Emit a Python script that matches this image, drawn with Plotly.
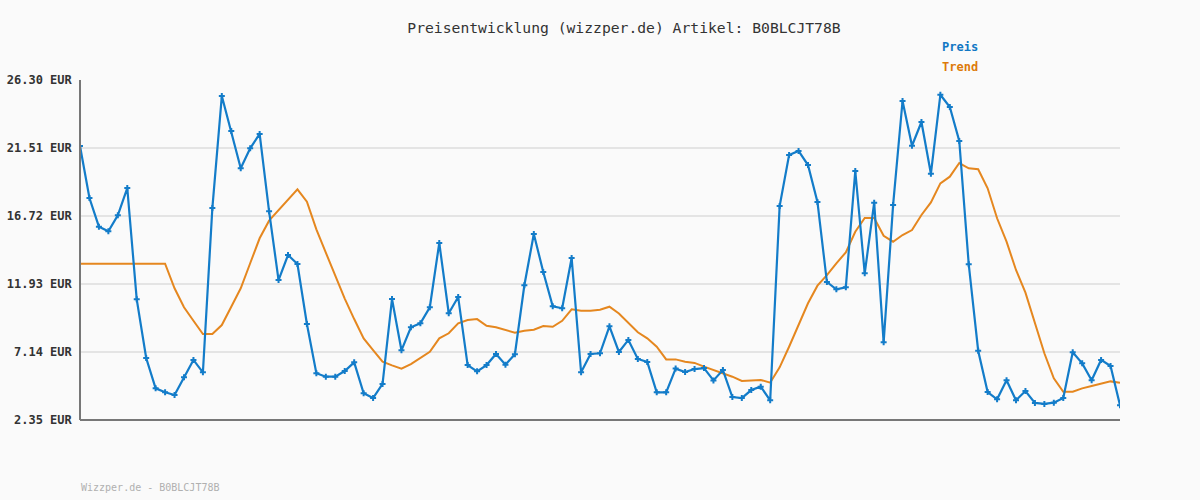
import plotly.graph_objects as go

preis = [21.65, 17.99, 15.97, 15.64, 16.77, 18.69, 10.85, 6.72, 4.58, 4.30,
         4.11, 5.36, 6.58, 5.71, 17.28, 25.17, 22.71, 20.08, 21.49, 22.50,
         17.05, 12.21, 13.97, 13.34, 9.11, 5.64, 5.40, 5.40, 5.80, 6.41,
         4.23, 3.90, 4.89, 10.87, 7.26, 8.88, 9.16, 10.29, 14.82, 9.87,
         11.01, 6.22, 5.78, 6.22, 7.00, 6.25, 6.98, 11.84, 15.45, 12.78,
         10.36, 10.22, 13.76, 5.71, 7.00, 7.05, 8.95, 7.14, 7.99, 6.65,
         6.44, 4.30, 4.30, 5.97, 5.73, 5.94, 6.01, 5.14, 5.87, 3.97,
         3.90, 4.46, 4.70, 3.74, 17.42, 21.02, 21.30, 20.31, 17.71, 12.07,
         11.56, 11.70, 19.89, 12.68, 17.66, 7.82, 17.49, 24.82, 21.67, 23.34,
         19.70, 25.26, 24.40, 22.00, 13.32, 7.23, 4.32, 3.81, 5.15, 3.74,
         4.39, 3.55, 3.48, 3.57, 3.90, 7.12, 6.34, 5.15, 6.58, 6.15, 3.39]

trend = [13.36, 13.36, 13.36, 13.36, 13.36, 13.36, 13.36, 13.36, 13.36, 13.36,
         11.63, 10.29, 9.34, 8.41, 8.41, 9.04, 10.33, 11.63, 13.39, 15.15,
         16.39, 17.14, 17.90, 18.60, 17.73, 15.78, 14.14, 12.56, 10.90, 9.46,
         8.10, 7.28, 6.46, 6.20, 5.97, 6.29, 6.70, 7.16, 8.10, 8.46,
         9.16, 9.39, 9.46, 8.99, 8.88, 8.69, 8.50, 8.64, 8.71, 8.97,
         8.92, 9.34, 10.15, 10.05, 10.05, 10.12, 10.33, 9.85, 9.16, 8.53,
         8.10, 7.51, 6.62, 6.62, 6.46, 6.37, 6.11, 5.87, 5.68, 5.40,
         5.10, 5.12, 5.17, 4.98, 6.06, 7.51, 8.99, 10.57, 11.81, 12.56,
         13.39, 14.16, 15.61, 16.58, 16.58, 15.33, 14.91, 15.38, 15.73, 16.79,
         17.68, 19.02, 19.49, 20.45, 20.08, 20.01, 18.67, 16.56, 14.91, 12.92,
         11.32, 9.16, 7.05, 5.29, 4.34, 4.34, 4.58, 4.75, 4.89, 5.07, 4.98]

y_ticks = [2.35, 7.14, 11.93, 16.72, 21.51, 26.30]
y_tick_labels = ["2.35 EUR", "7.14 EUR", "11.93 EUR", "16.72 EUR", "21.51 EUR", "26.30 EUR"]

title_text = "Preisentwicklung (wizzper.de) Artikel: B0BLCJT78B"
footer_text = "Wizzper.de - B0BLCJT78B"

x = list(range(len(preis)))
BLUE = "#137cc9"
ORANGE = "#e5871f"
MONO = "DejaVu Sans Mono"

W, H = 1200, 500
L, R, T, B = 80, 80, 80, 80
pw, ph = W - L - R, H - T - B


def px(xp):
    return (xp - L) / pw


def py(yp):
    return (H - B - yp) / ph


fig = go.Figure()
fig.add_trace(go.Scatter(
    x=x, y=trend, mode="lines", name="Trend",
    line=dict(color=ORANGE, width=2), hoverinfo="skip"))
fig.add_trace(go.Scatter(
    x=x, y=preis, mode="lines+markers", name="Preis",
    line=dict(color=BLUE, width=2.2),
    marker=dict(symbol="cross", size=5, color=BLUE, line=dict(width=0))))

fig.update_layout(
    width=W, height=H,
    paper_bgcolor="#fafafa", plot_bgcolor="#fafafa",
    margin=dict(l=L, r=R, t=T, b=B, autoexpand=False),
    showlegend=False,
    title=dict(text=title_text, x=624 / W, xanchor="center", y=1 - 28 / H, yanchor="middle",
               font=dict(family=MONO, size=14.7, color="#333")),
    xaxis=dict(range=[0, len(preis) - 1], showgrid=False, zeroline=False,
               showticklabels=False, ticks="", showline=False, automargin=False),
    yaxis=dict(range=[y_ticks[0], y_ticks[-1]], tickvals=y_ticks,
               ticktext=[t + "\u00a0" for t in y_tick_labels],
               showgrid=True, gridcolor="#e4e4e4", gridwidth=2, zeroline=False,
               showline=False, ticks="", ticklen=0, automargin=False,
               tickfont=dict(family=MONO, size=12, color="#333", weight="bold")),
)

fig.add_annotation(text="Preis", x=px(940), y=py(47), xref="paper", yref="paper",
                   xanchor="left", yanchor="middle", showarrow=False,
                   font=dict(family=MONO, size=12, color="#1177c4", weight="bold"))
fig.add_annotation(text="Trend", x=px(940), y=py(67), xref="paper", yref="paper",
                   xanchor="left", yanchor="middle", showarrow=False,
                   font=dict(family=MONO, size=12, color="#dd7a0a", weight="bold"))
fig.add_annotation(text=footer_text, x=px(79), y=py(487), xref="paper", yref="paper",
                   xanchor="left", yanchor="middle", showarrow=False,
                   font=dict(family=MONO, size=10, color="#b0b0b0"))

fig.add_shape(type="line", xref="paper", yref="paper", x0=0, x1=0, y0=0, y1=1,
              line=dict(color="#777777", width=2))
fig.add_shape(type="line", xref="paper", yref="paper", x0=0, x1=1, y0=0, y1=0,
              line=dict(color="#777777", width=2))

fig.write_html("out.html", config={"displayModeBar": False},
               post_script="document.body.style.margin='0';document.body.style.background='#fafafa';")
